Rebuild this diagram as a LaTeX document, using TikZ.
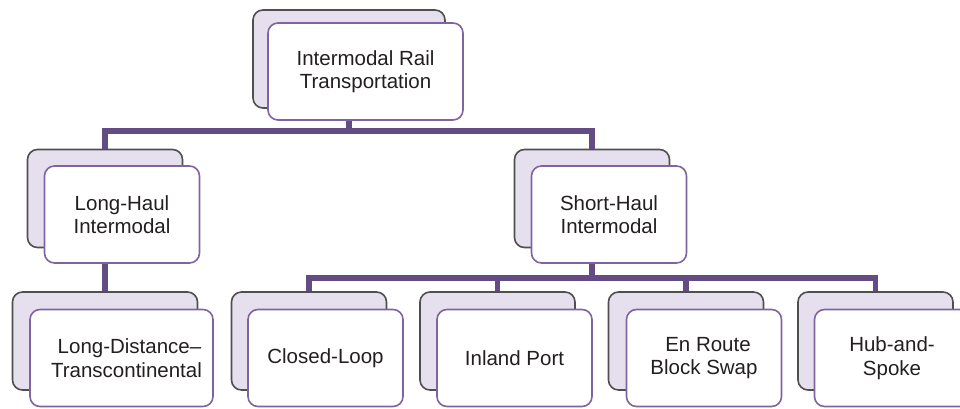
\documentclass[tikz,border=0pt]{standalone}
\usepackage{fontspec}
\setmainfont{Liberation Sans}
\definecolor{backfill}{HTML}{E6E0EE}
\definecolor{backline}{HTML}{4F4F4F}
\definecolor{frontline}{HTML}{8064A2}
\definecolor{connc}{HTML}{634C83}
\definecolor{txt}{HTML}{231F20}
\begin{document}
\begin{tikzpicture}[x=1pt,y=-1pt,
  backbox/.style={draw=backline, fill=backfill, line width=1.6pt, rounded corners=10pt, minimum height=98pt, minimum width=155pt, inner sep=0pt},
  frontbox/.style={draw=frontline, fill=white, line width=1.6pt, rounded corners=10pt, minimum height=97pt, minimum width=155pt, inner sep=0pt, align=center, font=\fontsize{20.5}{23.5}\selectfont, text=txt},
  conn/.style={draw=connc, line width=5.2pt}]
\useasboundingbox (0,0) rectangle (960,409);
% top
\node[backbox, minimum width=192pt] (topb) at (349,59) {};
\node[frontbox, minimum width=195pt] (top) at (365.5,71.5) {Intermodal Rail\\Transportation};
% level 2
\node[backbox] (lhb) at (105,198.5) {};
\node[frontbox] (lh) at (122,214.5) {Long-Haul\\Intermodal};
\node[backbox] (shb) at (592,198.5) {};
\node[frontbox] (sh) at (609,214.5) {Short-Haul\\Intermodal};
% level 3
\node[backbox, minimum width=185pt] (ldb) at (105,341) {};
\node[frontbox, minimum width=183pt] (ld) at (121.5,358) {\hspace*{16pt}Long-Distance–\\\hspace*{10pt}Transcontinental};
\node[backbox] (clb) at (309,341) {};
\node[frontbox] (cl) at (325.5,358) {Closed-Loop};
\node[backbox] (ipb) at (497.5,341) {};
\node[frontbox] (ip) at (514.5,358) {Inland Port};
\node[backbox] (erb) at (686,341) {};
\node[frontbox] (er) at (704,358) {\hspace*{8pt}En Route\\Block Swap};
\node[backbox] (hsb) at (875.5,341) {};
\node[frontbox] (hs) at (892,358) {Hub-and-\\Spoke};
% connectors
\coordinate (bus1) at (349,131);
\coordinate (bus2) at (592,278);
\draw[conn] (top.south -| topb.center) -- (bus1);
\draw[conn] (lhb.north) |- (bus1) -| (shb.north);
\draw[conn] (lh.south -| lhb.center) -- (ldb.north);
\draw[conn] (sh.south -| shb.center) -- (bus2);
\draw[conn] (clb.north) |- (bus2) -| (hsb.north);
\draw[conn] (ipb.north) |- (bus2);
\draw[conn] (erb.north) |- (bus2);
\end{tikzpicture}
\end{document}
